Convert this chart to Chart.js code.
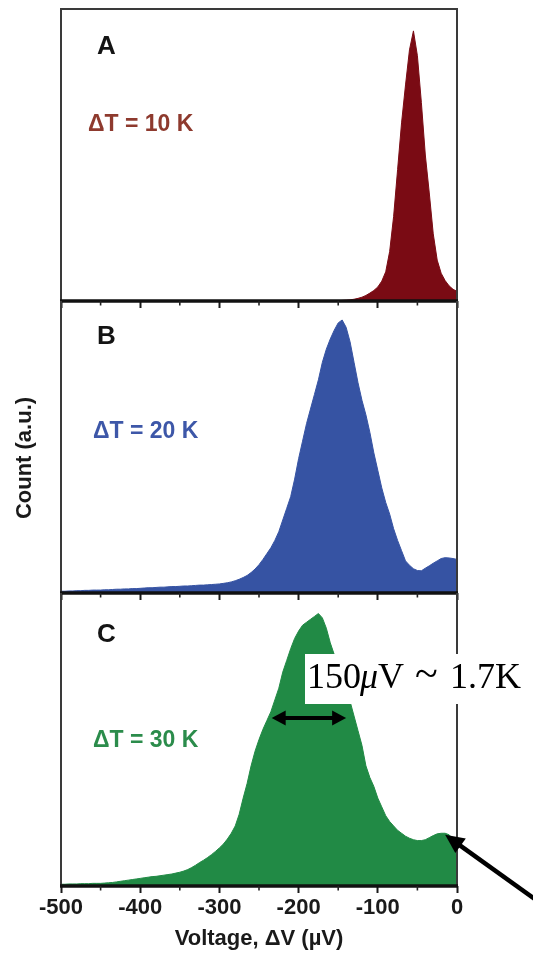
<!DOCTYPE html>
<html>
<head>
<meta charset="utf-8">
<script src="https://cdn.jsdelivr.net/npm/chart.js@4/dist/chart.umd.min.js"></script>
<style>
  html, body { margin: 0; padding: 0; background: #ffffff; }
  #wrap { position: relative; width: 533px; height: 955px; background: #ffffff; overflow: hidden; }
  canvas { position: absolute; left: 0; }
</style>
</head>
<body>
<div id="wrap">
  <canvas id="cA" width="533" height="308" style="top:0px"></canvas>
  <canvas id="cB" width="533" height="308" style="top:292px"></canvas>
  <canvas id="cC" width="533" height="371" style="top:584px"></canvas>
</div>
<script>
// ---------------- DATA ----------------
// bin centres, voltage in µV
const voltages = [
  -500,-495,-490,-485,-480,-475,-470,-465,-460,-455,
  -450,-445,-440,-435,-430,-425,-420,-415,-410,-405,
  -400,-395,-390,-385,-380,-375,-370,-365,-360,-355,
  -350,-345,-340,-335,-330,-325,-320,-315,-310,-305,
  -300,-295,-290,-285,-280,-275,-270,-265,-260,-255,
  -250,-245,-240,-235,-230,-225,-220,-215,-210,-205,
  -200,-195,-190,-185,-180,-175,-170,-165,-160,-155,
  -150,-145,-140,-135,-130,-125,-120,-115,-110,-105,
  -100,-95,-90,-85,-80,-75,-70,-65,-60,-55,
  -50,-45,-40,-35,-30,-25,-20,-15,-10,-5,
  0
];

// ΔT = 10 K (normalised count)
const countA = [
  0,0,0,0,0,0,0,0,0,0,
  0,0,0,0,0,0,0,0,0,0,
  0,0,0,0,0,0,0,0,0,0,
  0,0,0,0,0,0,0,0,0,0,
  0,0,0,0,0,0,0,0,0,0,
  0,0,0,0,0,0,0,0,0,0,
  0,0,0,0,0,0,0,0,0,0,
  0.001,0.002,0.003,0.004,0.006,0.009,0.013,0.019,0.027,0.036,
  0.048,0.068,0.10,0.17,0.29,0.45,0.61,0.74,0.86,0.925,
  0.84,0.68,0.50,0.37,0.23,0.14,0.095,0.07,0.052,0.04,
  0.033
];

// ΔT = 20 K
const countB = [
  0.006,0.006,0.007,0.007,0.008,0.008,0.009,0.009,0.010,0.010,
  0.010,0.011,0.011,0.012,0.013,0.013,0.014,0.014,0.015,0.015,
  0.016,0.017,0.018,0.018,0.019,0.020,0.020,0.021,0.022,0.022,
  0.023,0.024,0.024,0.025,0.026,0.027,0.027,0.028,0.029,0.030,
  0.031,0.033,0.035,0.038,0.042,0.047,0.053,0.060,0.070,0.082,
  0.097,0.115,0.135,0.155,0.18,0.21,0.25,0.29,0.33,0.39,
  0.46,0.52,0.58,0.63,0.68,0.73,0.79,0.835,0.87,0.90,
  0.925,0.935,0.91,0.86,0.79,0.72,0.66,0.61,0.55,0.48,
  0.42,0.36,0.31,0.27,0.22,0.18,0.145,0.11,0.095,0.083,
  0.077,0.076,0.085,0.093,0.102,0.11,0.118,0.121,0.12,0.118,
  0.115
];

// ΔT = 30 K
const countC = [
  0.006,0.006,0.007,0.007,0.007,0.008,0.008,0.008,0.009,0.009,
  0.009,0.010,0.011,0.012,0.014,0.016,0.018,0.020,0.022,0.024,
  0.026,0.028,0.030,0.032,0.033,0.035,0.037,0.039,0.041,0.044,
  0.047,0.051,0.056,0.063,0.071,0.080,0.088,0.097,0.107,0.118,
  0.130,0.143,0.160,0.18,0.205,0.245,0.30,0.35,0.41,0.46,
  0.50,0.535,0.565,0.595,0.635,0.675,0.73,0.77,0.81,0.845,
  0.87,0.89,0.90,0.91,0.92,0.93,0.915,0.88,0.83,0.79,
  0.75,0.71,0.67,0.63,0.58,0.53,0.48,0.41,0.37,0.34,
  0.30,0.27,0.24,0.22,0.205,0.19,0.18,0.17,0.163,0.158,
  0.155,0.155,0.158,0.165,0.172,0.178,0.18,0.18,0.175,0.16,
  0.145
];

const tickLabels = ['-500','-400','-300','-200','-100','0'];
const panelLetters = ['A','B','C'];
const tempLabels = ['\u0394T = 10 K','\u0394T = 20 K','\u0394T = 30 K'];
const xTitle = 'Voltage, \u0394V (\u00b5V)';
const yTitle = 'Count (a.u.)';
// FWHM annotation (µV) and arrow target
const fwhmRange = [-234, -140];
const fwhmLevel = 0.573;
const bumpPoint = [-15, 0.175];

// ---------------- STYLE ----------------
const SANS = '"Liberation Sans", Arial, Helvetica, sans-serif';
const SERIF = '"Liberation Serif", "Times New Roman", serif';
const fills = ['#7a0b14', '#3653a3', '#218a45'];
const textCols = ['#8e3a2e', '#3d57a8', '#2b8c4b'];
// per panel: [letter baseline, ΔT baseline] relative to canvas top
const labelY = [[54, 131], [52, 146], [58, 163]];

function arrowHead(ctx, x1, y1, x2, y2, len, half) {
  const a = Math.atan2(y2 - y1, x2 - x1);
  ctx.beginPath();
  ctx.moveTo(x2, y2);
  ctx.lineTo(x2 - len * Math.cos(a) + half * Math.sin(a), y2 - len * Math.sin(a) - half * Math.cos(a));
  ctx.lineTo(x2 - len * Math.cos(a) - half * Math.sin(a), y2 - len * Math.sin(a) + half * Math.cos(a));
  ctx.closePath();
  ctx.fill();
}

const panelPlugin = {
  id: 'panel',
  afterDraw(chart, args, o) {
    const ctx = chart.ctx;
    const a = chart.chartArea;
    const xs = chart.scales.x, ys = chart.scales.y;
    ctx.save();
    // frame
    ctx.strokeStyle = '#3a3a3a';
    ctx.lineWidth = 2;
    ctx.beginPath();
    ctx.moveTo(a.left, a.top); ctx.lineTo(a.left, a.bottom);
    ctx.moveTo(a.right, a.top); ctx.lineTo(a.right, a.bottom);
    if (o.index === 0) { ctx.moveTo(a.left - 1, a.top); ctx.lineTo(a.right + 1, a.top); }
    ctx.stroke();
    ctx.strokeStyle = '#111111';
    ctx.lineWidth = 3.5;
    ctx.beginPath();
    ctx.moveTo(a.left - 1, a.bottom); ctx.lineTo(a.right + 1, a.bottom);
    ctx.stroke();
    // minor ticks
    ctx.lineWidth = 1.6;
    ctx.strokeStyle = '#222222';
    xs.ticks.forEach(t => {
      const v = t.value + 50;
      if (v < xs.max) {
        const px = xs.getPixelForValue(v);
        ctx.beginPath(); ctx.moveTo(px, a.bottom); ctx.lineTo(px, a.bottom + 4.5); ctx.stroke();
      }
    });
    // panel letter
    ctx.fillStyle = '#141414';
    ctx.font = 'bold 26px ' + SANS;
    ctx.textBaseline = 'alphabetic';
    ctx.textAlign = 'left';
    ctx.fillText(panelLetters[o.index], 97, labelY[o.index][0]);
    // ΔT label
    ctx.fillStyle = textCols[o.index];
    ctx.font = 'bold 23px ' + SANS;
    ctx.fillText(tempLabels[o.index], o.index === 0 ? 88 : 93, labelY[o.index][1]);

    if (o.index === 1) {
      ctx.save();
      ctx.translate(25, 166);
      ctx.rotate(-Math.PI / 2);
      ctx.fillStyle = '#1a1a1a';
      ctx.font = 'bold 22px ' + SANS;
      ctx.textAlign = 'center';
      ctx.textBaseline = 'middle';
      ctx.fillText(yTitle, 0, 0);
      ctx.restore();
    }
    if (o.index === 2) {
      // double arrow (FWHM)
      const xl = xs.getPixelForValue(fwhmRange[0]);
      const xr = xs.getPixelForValue(fwhmRange[1]);
      const yy = ys.getPixelForValue(fwhmLevel);
      ctx.fillStyle = '#000000';
      ctx.strokeStyle = '#000000';
      ctx.lineWidth = 4;
      ctx.beginPath(); ctx.moveTo(xl + 8, yy); ctx.lineTo(xr - 8, yy); ctx.stroke();
      arrowHead(ctx, xr - 20, yy, xr, yy, 14, 7.5);
      arrowHead(ctx, xl + 20, yy, xl, yy, 14, 7.5);
      // white label box
      ctx.fillStyle = '#ffffff';
      ctx.fillRect(305, 70, 240, 50);
      ctx.fillStyle = '#000000';
      ctx.textBaseline = 'alphabetic';
      ctx.textAlign = 'left';
      const by = 104;
      ctx.font = '36px ' + SERIF;
      ctx.fillText('150', 307, by);
      ctx.font = 'italic 36px ' + SERIF;
      ctx.fillText('\u03bc', 360, by);
      ctx.font = '36px ' + SERIF;
      ctx.fillText('V', 378, by);
      ctx.font = '42px ' + SERIF;
      ctx.fillText('~', 415, by - 1);
      ctx.font = '36px ' + SERIF;
      ctx.fillText('1.7K', 450, by);
      // diagonal arrow to the bump
      const tx = xs.getPixelForValue(bumpPoint[0]);
      const ty = ys.getPixelForValue(bumpPoint[1]);
      const sx = tx + 120, sy = ty + 120 * 0.716;
      ctx.lineWidth = 4.5;
      ctx.beginPath(); ctx.moveTo(sx, sy); ctx.lineTo(tx + 12, ty + 12 * 0.716); ctx.stroke();
      arrowHead(ctx, sx, sy, tx, ty, 19, 9);
    }
    ctx.restore();
  }
};

function makePanel(id, index, values, canvasH, axisH) {
  const isLast = index === 2;
  return new Chart(document.getElementById(id), {
    type: 'line',
    data: {
      datasets: [{
        data: voltages.map((v, i) => ({ x: v, y: values[i] })),
        tension: 0,
        fill: 'origin',
        backgroundColor: fills[index],
        borderColor: fills[index],
        borderWidth: 1,
        pointRadius: 0
      }]
    },
    options: {
      responsive: false,
      animation: false,
      devicePixelRatio: 1,
      events: [],
      layout: { padding: { left: 61, right: 76, top: 9, bottom: 0 } },
      plugins: {
        legend: { display: false },
        tooltip: { enabled: false },
        panel: { index: index }
      },
      scales: {
        x: {
          type: 'linear',
          min: -500,
          max: 0,
          afterFit: (s) => { s.height = axisH; },
          border: { display: false },
          grid: { drawOnChartArea: false, drawTicks: true, tickLength: 7, tickWidth: 2, tickColor: '#1a1a1a' },
          ticks: {
            display: isLast,
            stepSize: 100,
            padding: 2,
            color: '#1a1a1a',
            font: { family: SANS, size: 22, weight: 'bold' },
            maxRotation: 0,
            autoSkip: false,
            callback: (v, i) => tickLabels[i]
          },
          title: {
            display: isLast,
            text: xTitle,
            color: '#1a1a1a',
            font: { family: SANS, size: 22, weight: 'bold' },
            padding: { top: 0, bottom: 3 }
          }
        },
        y: { display: false, min: 0, max: 1 }
      }
    },
    plugins: [panelPlugin]
  });
}

makePanel('cA', 0, countA, 308, 7);
makePanel('cB', 1, countB, 308, 7);
makePanel('cC', 2, countC, 371, 69);
</script>
</body>
</html>
